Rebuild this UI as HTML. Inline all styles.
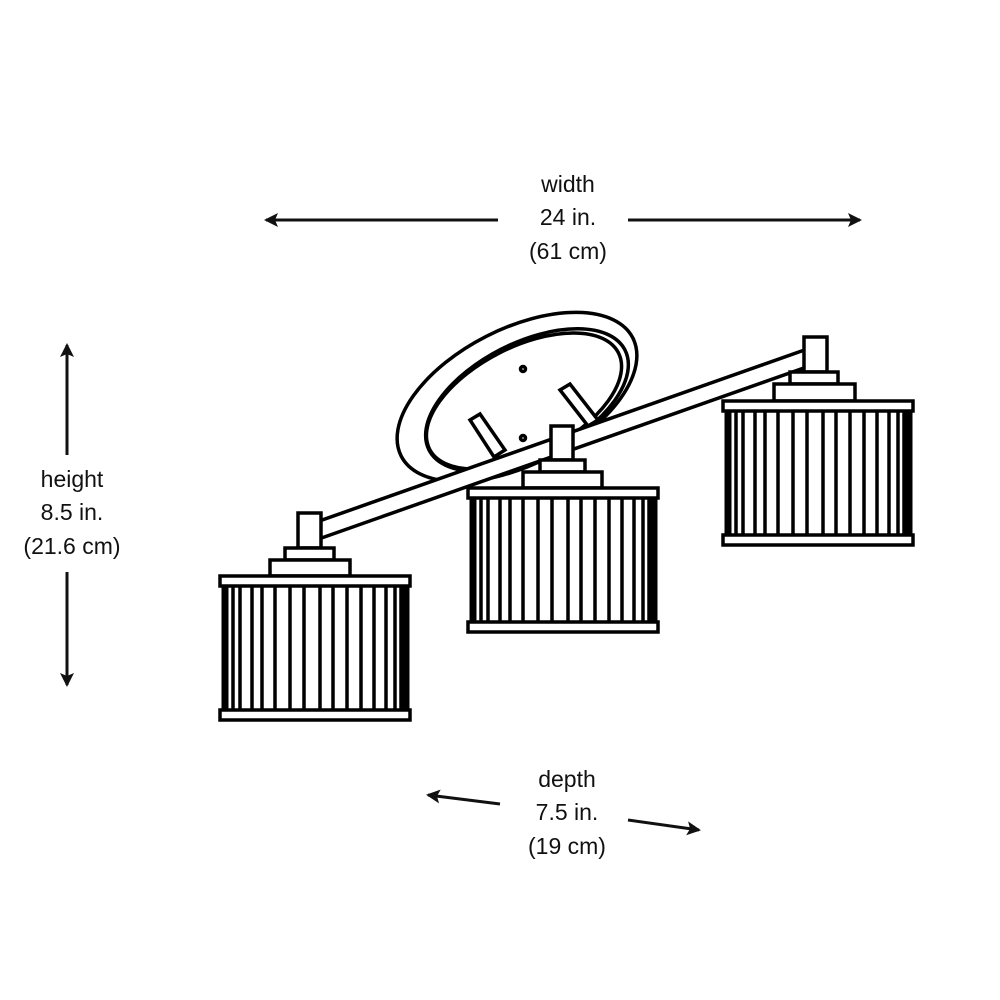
<!DOCTYPE html>
<html><head><style>body{margin:0;background:#fff}svg{display:block}text{font-family:"Liberation Sans",sans-serif;font-size:23px;fill:#111;text-anchor:middle}</style></head>
<body>
<svg width="1000" height="1000" viewBox="0 0 1000 1000" xmlns="http://www.w3.org/2000/svg">
<defs>
<marker id="ah" markerWidth="14" markerHeight="14" refX="12" refY="7" orient="auto" markerUnits="userSpaceOnUse"><path d="M0,0 L14,7 L0,14 L3,7 Z" fill="#111"/></marker>
<g id="shade" stroke="#000" fill="#fff" stroke-width="3.5">
<g>
<line x1="5" y1="10" x2="5" y2="134" stroke-width="7"/>
<line x1="13" y1="10" x2="13" y2="134"/>
<line x1="20" y1="10" x2="20" y2="134"/>
<line x1="32" y1="10" x2="32" y2="134"/>
<line x1="42" y1="10" x2="42" y2="134"/>
<line x1="55" y1="10" x2="55" y2="134"/>
<line x1="70" y1="10" x2="70" y2="134"/>
<line x1="84" y1="10" x2="84" y2="134"/>
<line x1="100" y1="10" x2="100" y2="134"/>
<line x1="113" y1="10" x2="113" y2="134"/>
<line x1="127" y1="10" x2="127" y2="134"/>
<line x1="141" y1="10" x2="141" y2="134"/>
<line x1="154" y1="10" x2="154" y2="134"/>
<line x1="166" y1="10" x2="166" y2="134"/>
<line x1="175" y1="10" x2="175" y2="134"/>
<line x1="181" y1="10" x2="181" y2="134"/>
<line x1="186" y1="10" x2="186" y2="134" stroke-width="7"/>
</g>
<rect x="0" y="0" width="190" height="10"/>
<rect x="0" y="134" width="190" height="10"/>
</g>
</defs>
<g stroke="#000" stroke-width="3.5" fill="#fff">
<ellipse cx="517" cy="397" rx="130" ry="68" transform="rotate(-27 517 397)"/>
<ellipse cx="527" cy="400" rx="110" ry="57" transform="rotate(-27 527 400)"/>
<ellipse cx="524" cy="401" rx="106" ry="54" transform="rotate(-27 524 401)"/>
<circle cx="523" cy="369" r="2.5"/>
<circle cx="523" cy="438" r="2.5"/>
<path d="M470,420 L480,414 L505,450 L494,457 Z"/>
<path d="M560,390 L570,384 L598,420 L588,426 Z"/>
<path d="M313,541 L818,363 L813,347 L308,525 Z"/>
<ellipse cx="815" cy="355" rx="5" ry="8" transform="rotate(-19 815 355)"/>
<rect x="804" y="337" width="23" height="35"/>
<rect x="790" y="372" width="48" height="12"/>
<rect x="774" y="384" width="81" height="17"/>
<rect x="551" y="426" width="22" height="34"/>
<rect x="540" y="460" width="45" height="12"/>
<rect x="523" y="472" width="79" height="16"/>
<rect x="298" y="513" width="23" height="35"/>
<rect x="285" y="548" width="49" height="12"/>
<rect x="270" y="560" width="80" height="16"/>
</g>
<use href="#shade" x="723" y="401"/>
<use href="#shade" x="468" y="488"/>
<use href="#shade" x="220" y="576"/>
<g stroke="#111" stroke-width="3">
<line x1="498" y1="220" x2="266" y2="220" marker-end="url(#ah)"/>
<line x1="628" y1="220" x2="860" y2="220" marker-end="url(#ah)"/>
<line x1="67" y1="455" x2="67" y2="345" marker-end="url(#ah)"/>
<line x1="67" y1="572" x2="67" y2="685" marker-end="url(#ah)"/>
<line x1="500" y1="804" x2="428" y2="795" marker-end="url(#ah)"/>
<line x1="628" y1="820" x2="699" y2="830" marker-end="url(#ah)"/>
</g>
<text x="568" y="192">width</text>
<text x="568" y="225">24 in.</text>
<text x="568" y="259">(61 cm)</text>
<text x="72" y="487">height</text>
<text x="72" y="520">8.5 in.</text>
<text x="72" y="554">(21.6 cm)</text>
<text x="567" y="787">depth</text>
<text x="567" y="820">7.5 in.</text>
<text x="567" y="854">(19 cm)</text>
</svg>
</body></html>
